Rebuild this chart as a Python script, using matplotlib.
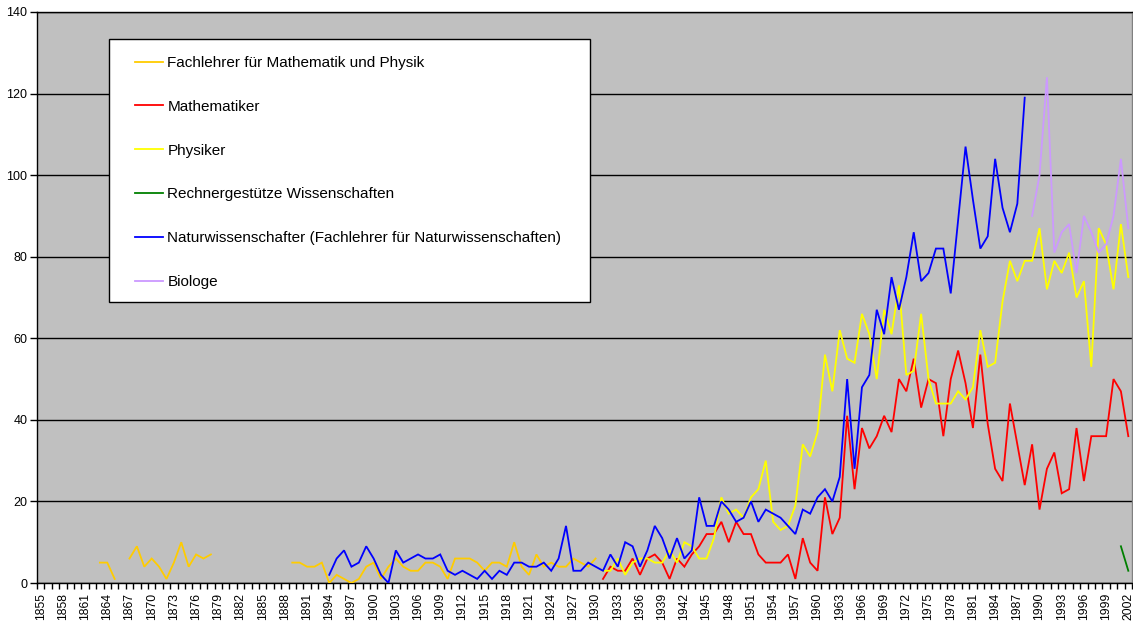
import numpy as np
import matplotlib
matplotlib.use("Agg")
import matplotlib.pyplot as plt
from matplotlib.patches import Rectangle

plt.rcParams['font.family'] = ['Liberation Sans', 'DejaVu Sans']

years = list(range(1855, 2003))

labels = ["Fachlehrer für Mathematik und Physik", "Mathematiker", "Physiker",
          "Rechnergestütze Wissenschaften",
          "Naturwissenschafter (Fachlehrer für Naturwissenschaften)", "Biologe"]
colors = ["#FFCC00", "#FF0000", "#FFFF00", "#008000", "#0000FF", "#CC99FF"]

fachlehrer_start = 1863
fachlehrer = [5, 5, 1, None, 6, 9, 4, 6, 4, 1, 5, 10, 4, 7, 6, 7,
              None, None, None, None, None, None, None, None, None, None,
              5, 5, 4, 4, 5, 0, 2, 1, 0, 1, 4, 5, 1, 4, 6, 4, 3, 3, 5, 5,
              4, 1, 6, 6, 6, 5, 3, 5, 5, 4, 10, 4, 2, 7, 4, 5, 4, 4, 6, 5,
              4, 6]

mathematiker_start = 1931
mathematiker = [1, 4, 3, 3, 6, 2, 6, 7, 5, 1, 6, 4, 7, 9, 12, 12, 15, 10, 15, 12,
                12, 7, 5, 5, 5, 7, 1, 11, 5, 3, 21, 12, 16, 41, 23, 38, 33, 36, 41, 37,
                50, 47, 55, 43, 50, 49, 36, 50, 57, 49, 38, 56, 39, 28, 25, 44, 34, 24, 34, 18,
                28, 32, 22, 23, 38, 25, 36, 36, 36, 50, 47, 36]

physiker_start = 1931
physiker = [3, 3, 6, 2, 5, 6, 6, 5, 5, 8, 5, 10, 9, 6, 6, 11, 21, 17, 18, 16,
            21, 23, 30, 15, 13, 14, 19, 34, 31, 37, 56, 47, 62, 55, 54, 66, 61, 50, 67, 61,
            73, 51, 52, 66, 50, 44, 44, 44, 47, 45, 48, 62, 53, 54, 69, 79, 74, 79, 79, 87,
            72, 79, 76, 81, 70, 74, 53, 87, 83, 72, 88, 75]

rechner_start = 2001
rechner = [9, 3]

natur_start = 1894
natur = [2, 6, 8, 4, 5, 9, 6, 2, 0, 8, 5, 6, 7, 6, 6, 7, 3, 2, 3, 2,
         1, 3, 1, 3, 2, 5, 5, 4, 4, 5, 3, 6, 14, 3, 3, 5, 4, 3, 7, 4,
         10, 9, 4, 8, 14, 11, 6, 11, 6, 8, 21, 14, 14, 20, 18, 15, 16, 20, 15, 18,
         17, 16, 14, 12, 18, 17, 21, 23, 20, 26, 50, 28, 48, 51, 67, 61, 75, 67, 75, 86,
         74, 76, 82, 82, 71, 89, 107, 94, 82, 85, 104, 92, 86, 93, 119]

biologe_start = 1989
biologe = [90, 100, 124, 81, 86, 88, 76, 90, 86, 81, 83, 90, 104, 87]

series = [(fachlehrer_start, fachlehrer), (mathematiker_start, mathematiker),
          (physiker_start, physiker), (rechner_start, rechner),
          (natur_start, natur), (biologe_start, biologe)]

W, H = 1133, 622
fig = plt.figure(figsize=(W / 100, H / 100), dpi=100)
fig.patch.set_facecolor("white")
ax = fig.add_axes([37 / W, 1 - 583 / H, (1132 - 37) / W, (583 - 12) / H])
ax.set_facecolor("#C0C0C0")

for (start, vals), lab, col in zip(series, labels, colors):
    x = np.arange(start, start + len(vals))
    y = np.array([np.nan if v is None else v for v in vals], dtype=float)
    ax.plot(x, y, color=col, lw=1.3, label=lab, solid_joinstyle="miter", zorder=3)

ax.set_xlim(years[0] - 0.5, years[-1] + 0.5)
ax.set_ylim(0, 140)
ax.set_yticks(np.arange(0, 141, 20))
ax.yaxis.grid(True, color="black", lw=1.0, zorder=1)
ax.set_axisbelow(True)

ax.set_xticks(years[::3])
ax.set_xticklabels([str(y) for y in years[::3]], rotation=90, fontsize=8.7)
ax.set_xticks(np.arange(years[0] - 0.5, years[-1] + 1.0, 1.0), minor=True)
ax.tick_params(axis="x", which="major", length=0, pad=7)
ax.tick_params(axis="x", which="minor", length=4.5, width=1, color="black", direction="out")
ax.tick_params(axis="y", which="major", length=5, width=1, labelsize=9, pad=2)

ax.spines["right"].set_color("#808080")
ax.spines["right"].set_linewidth(1.0)
for s in ["left", "bottom", "top"]:
    ax.spines[s].set_color("black")
    ax.spines[s].set_linewidth(1.0)

# legend box
fig.patches.append(Rectangle((109 / W, 1 - 302 / H), (590 - 109) / W, (302 - 39) / H,
                             transform=fig.transFigure, facecolor="white",
                             edgecolor="black", lw=1.0, zorder=5))
leg = fig.legend(loc="upper left", bbox_to_anchor=(135 / W, 1 - 56 / H),
                 frameon=False, fontsize=11, handlelength=1.85, handletextpad=0.27,
                 labelspacing=1.95, borderpad=0, borderaxespad=0)
leg.set_zorder(6)

fig.savefig("out.png", dpi=100)
